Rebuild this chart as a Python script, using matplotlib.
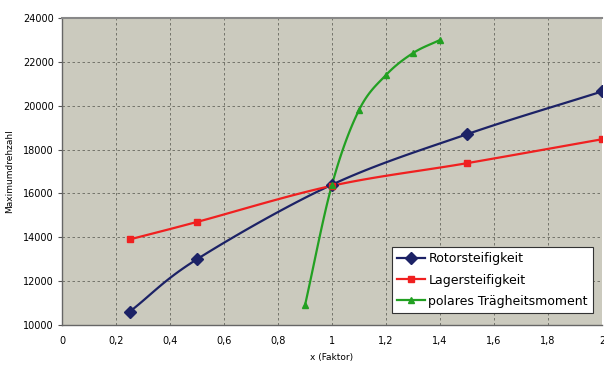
import numpy as np
import matplotlib
matplotlib.use("Agg")
import matplotlib.pyplot as plt

x_rotor = [0.25, 0.5, 1.0, 1.5, 2.0]
y_rotor = [10600, 13000, 16400, 18700, 20650]
x_lager = [0.25, 0.5, 1.0, 1.5, 2.0]
y_lager = [13900, 14700, 16350, 17380, 18470]
x_polar = [0.9, 1.0, 1.1, 1.2, 1.3, 1.4]
y_polar = [10900, 16400, 19800, 21400, 22400, 23000]
labels = ["Rotorsteifigkeit", "Lagersteifigkeit", "polares Trägheitsmoment"]
xticks = [0, 0.2, 0.4, 0.6, 0.8, 1.0, 1.2, 1.4, 1.6, 1.8, 2.0]
xticklabels = ["0", "0,2", "0,4", "0,6", "0,8", "1", "1,2", "1,4", "1,6", "1,8", "2"]
yticks = [10000, 12000, 14000, 16000, 18000, 20000, 22000, 24000]


def smooth(xs, ys, n=20):
    # Catmull-Rom rendering of a smoothed line through the given points
    xs = np.asarray(xs, float); ys = np.asarray(ys, float)
    px = np.concatenate([[2 * xs[0] - xs[1]], xs, [2 * xs[-1] - xs[-2]]])
    py = np.concatenate([[2 * ys[0] - ys[1]], ys, [2 * ys[-1] - ys[-2]]])
    ox, oy = [], []
    t = np.linspace(0, 1, n, endpoint=False)
    for i in range(1, len(px) - 2):
        for P, out in ((px, ox), (py, oy)):
            p0, p1, p2, p3 = P[i - 1], P[i], P[i + 1], P[i + 2]
            out.extend(0.5 * ((2 * p1) + (-p0 + p2) * t + (2 * p0 - 5 * p1 + 4 * p2 - p3) * t ** 2
                              + (-p0 + 3 * p1 - 3 * p2 + p3) * t ** 3))
    ox.append(xs[-1]); oy.append(ys[-1])
    return ox, oy


fig = plt.figure(figsize=(6.04, 3.65), dpi=100)
ax = fig.add_axes([62 / 604, 40 / 365, 540 / 604, 307 / 365])
ax.set_facecolor("#cbcabe")

series = [
    (x_rotor, y_rotor, "#1c2266", "D", 6),
    (x_lager, y_lager, "#f02020", "s", 4.5),
    (x_polar, y_polar, "#22a022", "^", 4.5),
]
for (xs, ys, c, m, ms), lab in zip(series, labels):
    sx, sy = smooth(xs, ys)
    ax.plot(sx, sy, color=c, lw=1.6, zorder=3)
    ax.plot(xs, ys, ls="none", marker=m, color=c, ms=ms, zorder=4)
    ax.plot([], [], color=c, lw=1.6, marker=m, ms=ms, label=lab)

ax.set_xlim(0, 2)
ax.set_ylim(10000, 24000)
ax.set_xticks(xticks)
ax.set_xticklabels(xticklabels)
ax.set_yticks(yticks)
ax.set_yticklabels([str(v) for v in yticks])
ax.tick_params(axis="x", labelsize=7, length=0, pad=8)
ax.tick_params(axis="y", labelsize=7, length=3, color="#555555", pad=3)
ax.grid(True, ls=(0, (3, 3)), color="#66665e", lw=0.6)
for s in ["left", "bottom"]:
    ax.spines[s].set_color("#666666")
    ax.spines[s].set_linewidth(1.0)
ax.spines["top"].set_color("#888888")
ax.spines["top"].set_linewidth(1.5)
ax.spines["right"].set_visible(False)

ax.set_xlabel("x (Faktor)", fontsize=6.5)
ax.set_ylabel("Maximumdrehzahl", fontsize=6.5)
ax.xaxis.set_label_coords(0.5, -28 / 307, transform=ax.transAxes)
ax.yaxis.set_label_coords(-48 / 540, 0.5, transform=ax.transAxes)

leg = ax.legend(loc="lower right", bbox_to_anchor=(0.983, 0.04), fontsize=9,
                frameon=True, fancybox=False, edgecolor="#333333",
                handlelength=2.2, handletextpad=0.3, borderpad=0.4,
                labelspacing=0.65, borderaxespad=0)
leg.get_frame().set_linewidth(0.8)
leg.get_frame().set_facecolor("white")
leg.get_frame().set_alpha(1)

fig.savefig("out.png", dpi=100, facecolor="white")
